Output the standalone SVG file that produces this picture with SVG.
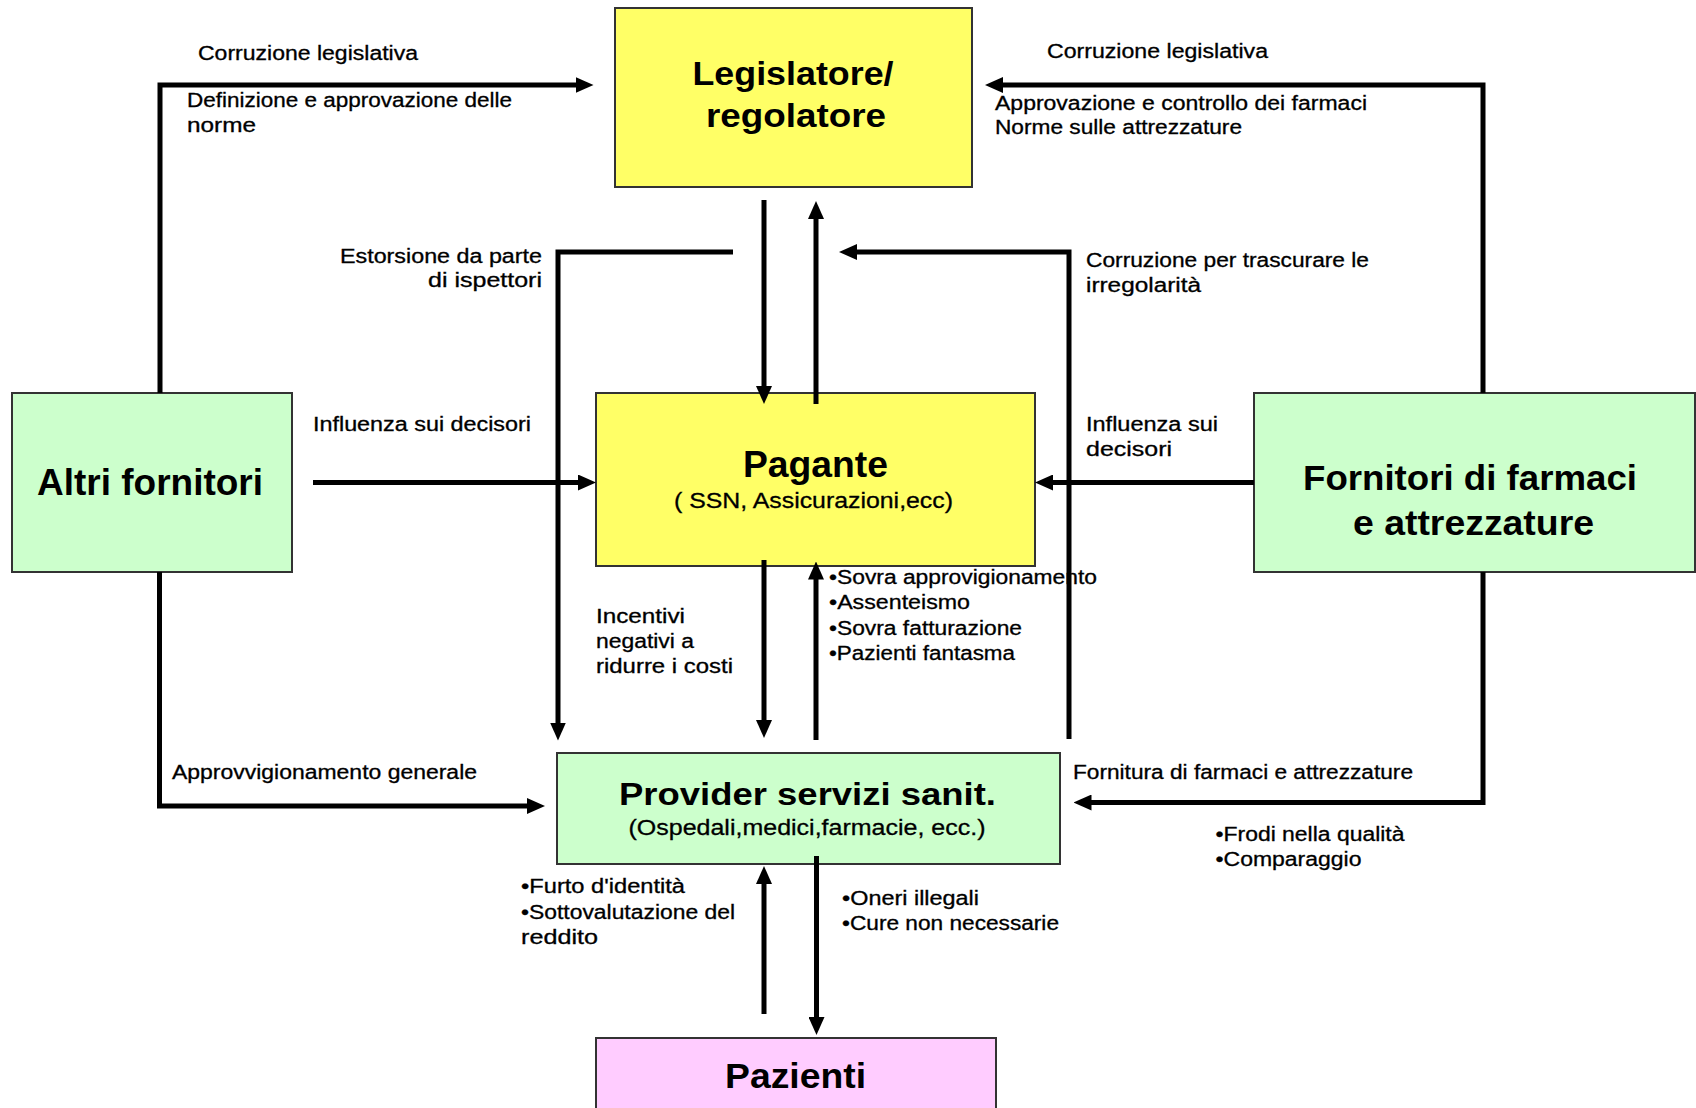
<svg xmlns="http://www.w3.org/2000/svg" width="1696" height="1108" viewBox="0 0 1696 1108">
<defs>
<style>
.box{stroke:#333333;stroke-width:2}
.yellow{fill:#FFFF66}
.green{fill:#CCFFCC}
.pink{fill:#FFCCFF}
.t{font-family:"Liberation Sans",Arial,sans-serif;fill:#000}
.title{font-weight:bold}
.lbl{font-size:19.5px;stroke:#000;stroke-width:0.3}
.sub{font-size:22px;stroke:#000;stroke-width:0.3}
.conn{fill:none;stroke:#000;stroke-width:5;stroke-linejoin:miter}
</style>
<marker id="ah" viewBox="0 0 18 16" refX="8" refY="8" markerWidth="18" markerHeight="16" markerUnits="userSpaceOnUse" orient="auto">
<path d="M0,0 L18,8 L0,16 z" fill="#000"/>
</marker>
</defs>
<rect width="1696" height="1108" fill="#fff"/>

<g id="legislatore">
<rect class="box yellow" x="615" y="8" width="357" height="179"/>
<text class="t title" x="793" y="85" font-size="34" text-anchor="middle" textLength="201" lengthAdjust="spacingAndGlyphs">Legislatore/</text>
<text class="t title" x="796" y="127" font-size="34" text-anchor="middle" textLength="180" lengthAdjust="spacingAndGlyphs">regolatore</text>
</g>

<g id="pagante">
<rect class="box yellow" x="596" y="393" width="439" height="173"/>
<text class="t title" x="815.5" y="477" font-size="36" text-anchor="middle" textLength="145" lengthAdjust="spacingAndGlyphs">Pagante</text>
<text class="t sub" x="813.5" y="508" text-anchor="middle" textLength="279" lengthAdjust="spacingAndGlyphs">( SSN, Assicurazioni,ecc)</text>
</g>

<g id="altri-fornitori">
<rect class="box green" x="12" y="393" width="280" height="179"/>
<text class="t title" x="150" y="495" font-size="36" text-anchor="middle" textLength="226" lengthAdjust="spacingAndGlyphs">Altri fornitori</text>
</g>

<g id="fornitori-farmaci">
<rect class="box green" x="1254" y="393" width="441" height="179"/>
<text class="t title" x="1470" y="490" font-size="35" text-anchor="middle" textLength="334" lengthAdjust="spacingAndGlyphs">Fornitori di farmaci</text>
<text class="t title" x="1473.5" y="535" font-size="35" text-anchor="middle" textLength="241" lengthAdjust="spacingAndGlyphs">e attrezzature</text>
</g>

<g id="provider">
<rect class="box green" x="557" y="753" width="503" height="111"/>
<text class="t title" x="807.5" y="805" font-size="32" text-anchor="middle" textLength="377" lengthAdjust="spacingAndGlyphs">Provider servizi sanit.</text>
<text class="t sub" x="807" y="835" text-anchor="middle" textLength="357" lengthAdjust="spacingAndGlyphs">(Ospedali,medici,farmacie, ecc.)</text>
</g>

<g id="pazienti">
<rect class="box pink" x="596" y="1038" width="400" height="100"/>
<text class="t title" x="795.5" y="1088" font-size="35" text-anchor="middle" textLength="141" lengthAdjust="spacingAndGlyphs">Pazienti</text>
</g>

<g id="labels">
<text class="t lbl" x="198" y="60" textLength="220" lengthAdjust="spacingAndGlyphs">Corruzione legislativa</text>
<text class="t lbl" x="187" y="107" textLength="325" lengthAdjust="spacingAndGlyphs">Definizione e approvazione delle</text>
<text class="t lbl" x="187" y="131.5" textLength="69" lengthAdjust="spacingAndGlyphs">norme</text>
<text class="t lbl" x="1047" y="58" textLength="221" lengthAdjust="spacingAndGlyphs">Corruzione legislativa</text>
<text class="t lbl" x="995" y="110" textLength="372" lengthAdjust="spacingAndGlyphs">Approvazione e controllo dei farmaci</text>
<text class="t lbl" x="995" y="134" textLength="247" lengthAdjust="spacingAndGlyphs">Norme sulle attrezzature</text>
<text class="t lbl" x="542" y="263" text-anchor="end" textLength="202" lengthAdjust="spacingAndGlyphs">Estorsione da parte</text>
<text class="t lbl" x="542" y="287" text-anchor="end" textLength="114" lengthAdjust="spacingAndGlyphs">di ispettori</text>
<text class="t lbl" x="1086" y="267" textLength="283" lengthAdjust="spacingAndGlyphs">Corruzione per trascurare le</text>
<text class="t lbl" x="1086" y="292" textLength="115" lengthAdjust="spacingAndGlyphs">irregolarità</text>
<text class="t lbl" x="313" y="431" textLength="218" lengthAdjust="spacingAndGlyphs">Influenza sui decisori</text>
<text class="t lbl" x="1086" y="431" textLength="132" lengthAdjust="spacingAndGlyphs">Influenza sui</text>
<text class="t lbl" x="1086" y="456" textLength="86" lengthAdjust="spacingAndGlyphs">decisori</text>
<text class="t lbl" x="596" y="623" textLength="89" lengthAdjust="spacingAndGlyphs">Incentivi</text>
<text class="t lbl" x="596" y="648" textLength="98" lengthAdjust="spacingAndGlyphs">negativi a</text>
<text class="t lbl" x="596" y="673" textLength="137" lengthAdjust="spacingAndGlyphs">ridurre i costi</text>
<text class="t lbl" x="829" y="584" textLength="268" lengthAdjust="spacingAndGlyphs">•Sovra approvigionamento</text>
<text class="t lbl" x="829" y="609" textLength="141" lengthAdjust="spacingAndGlyphs">•Assenteismo</text>
<text class="t lbl" x="829" y="635" textLength="193" lengthAdjust="spacingAndGlyphs">•Sovra fatturazione</text>
<text class="t lbl" x="829" y="660" textLength="186" lengthAdjust="spacingAndGlyphs">•Pazienti fantasma</text>
<text class="t lbl" x="172" y="779" textLength="305" lengthAdjust="spacingAndGlyphs">Approvvigionamento generale</text>
<text class="t lbl" x="1073" y="779" textLength="340" lengthAdjust="spacingAndGlyphs">Fornitura di farmaci e attrezzature</text>
<text class="t lbl" x="1215.5" y="841" textLength="189" lengthAdjust="spacingAndGlyphs">•Frodi nella qualità</text>
<text class="t lbl" x="1215.5" y="866" textLength="146" lengthAdjust="spacingAndGlyphs">•Comparaggio</text>
<text class="t lbl" x="521" y="893" textLength="164" lengthAdjust="spacingAndGlyphs">•Furto d'identità</text>
<text class="t lbl" x="521" y="919" textLength="214" lengthAdjust="spacingAndGlyphs">•Sottovalutazione del</text>
<text class="t lbl" x="521" y="944" textLength="77" lengthAdjust="spacingAndGlyphs">reddito</text>
<text class="t lbl" x="842" y="905" textLength="137" lengthAdjust="spacingAndGlyphs">•Oneri illegali</text>
<text class="t lbl" x="842" y="930" textLength="217" lengthAdjust="spacingAndGlyphs">•Cure non necessarie</text>
</g>

<g id="connectors">
<path class="conn" d="M160,393 V85 H583.5" marker-end="url(#ah)"/>
<path class="conn" d="M1483,393 V85 H995" marker-end="url(#ah)"/>
<path class="conn" d="M764,200 V394" marker-end="url(#ah)"/>
<path class="conn" d="M816,404 V211" marker-end="url(#ah)"/>
<path class="conn" d="M733,252 H558 V730.5" marker-end="url(#ah)"/>
<path class="conn" d="M1069,739 V252 H849" marker-end="url(#ah)"/>
<path class="conn" d="M313,482.5 H586" marker-end="url(#ah)"/>
<path class="conn" d="M1254,482.5 H1045" marker-end="url(#ah)"/>
<path class="conn" d="M764,560 V728" marker-end="url(#ah)"/>
<path class="conn" d="M816,740 V571.5" marker-end="url(#ah)"/>
<path class="conn" d="M159.5,572 V806 H535" marker-end="url(#ah)"/>
<path class="conn" d="M1483,572 V802.5 H1083.5" marker-end="url(#ah)"/>
<path class="conn" d="M816.5,856 V1025" marker-end="url(#ah)"/>
<path class="conn" d="M764,1014 V876" marker-end="url(#ah)"/>
</g>
</svg>
